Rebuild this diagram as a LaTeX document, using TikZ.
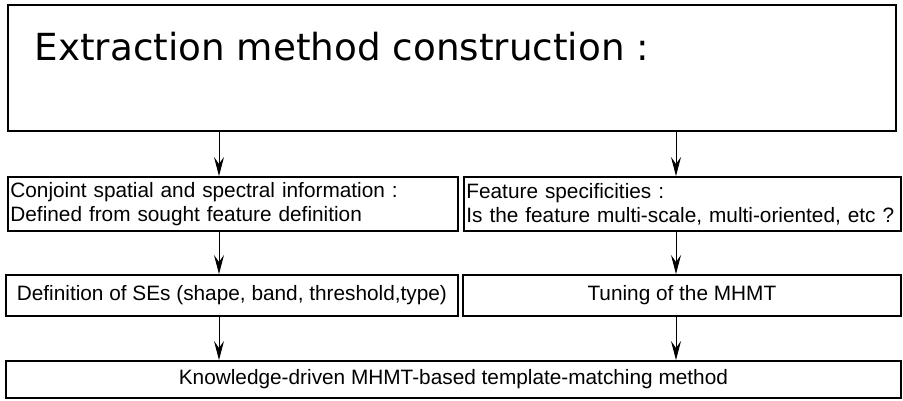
\documentclass[tikz,border=0pt]{standalone}
\usepackage{fontspec}
\setmainfont{Liberation Sans}
\newfontfamily\titlefont{DejaVu Sans}
\usepackage{tikz}
\usetikzlibrary{arrows.meta,positioning}

\begin{document}
\begin{tikzpicture}[
  x=1pt, y=-1pt,
  font=\fontsize{20.8}{24}\selectfont,
  box/.style={draw, rectangle, line width=1.8pt, inner sep=0pt, anchor=north west},
  txtbox/.style={box, align=left, inner xsep=2.5pt, inner ysep=0pt},
  >={Stealth[length=19pt, width=10pt, inset=7pt]},
  arrline/.style={->, line width=0.9pt},
]
\useasboundingbox (0,0) rectangle (903,401);
\node[box, minimum width=888pt, minimum height=126pt] (top) at (7,4) {};
\node[anchor=base west, font=\titlefont\fontsize{37.3}{40}\selectfont] (title) at (31,61) {Extraction method construction :};
\node[txtbox, text width=445pt, minimum height=54pt] (spatial) at (7,176)
  {Conjoint spatial and spectral information :\\Defined from sought feature definition};
\node[txtbox, text width=432pt, minimum height=54pt] (specif) at (463,176)
  {Feature specificities :\\Is the feature multi-scale, multi-oriented, etc ?};
\node[box, minimum width=452pt, minimum height=41pt] (ses) at (5,274)
  {Definition of SEs (shape, band, threshold,type)};
\node[box, minimum width=438pt, minimum height=41pt] (tuning) at (462,274) {Tuning of the MHMT};
\node[box, minimum width=895pt, minimum height=37pt] (method) at (5,360)
  {Knowledge-driven MHMT-based template-matching method};
% arrow columns
\coordinate (lcol) at (219,0);
\coordinate (rcol) at (676,0);
\draw[arrline] (top.south -| lcol) -- (spatial.north -| lcol);
\draw[arrline] (top.south -| rcol) -- (specif.north -| rcol);
\draw[arrline] (spatial.south -| lcol) -- (ses.north -| lcol);
\draw[arrline] (specif.south -| rcol) -- (tuning.north -| rcol);
\draw[arrline] (ses.south -| lcol) -- (method.north -| lcol);
\draw[arrline] (tuning.south -| rcol) -- (method.north -| rcol);
\end{tikzpicture}
\end{document}
